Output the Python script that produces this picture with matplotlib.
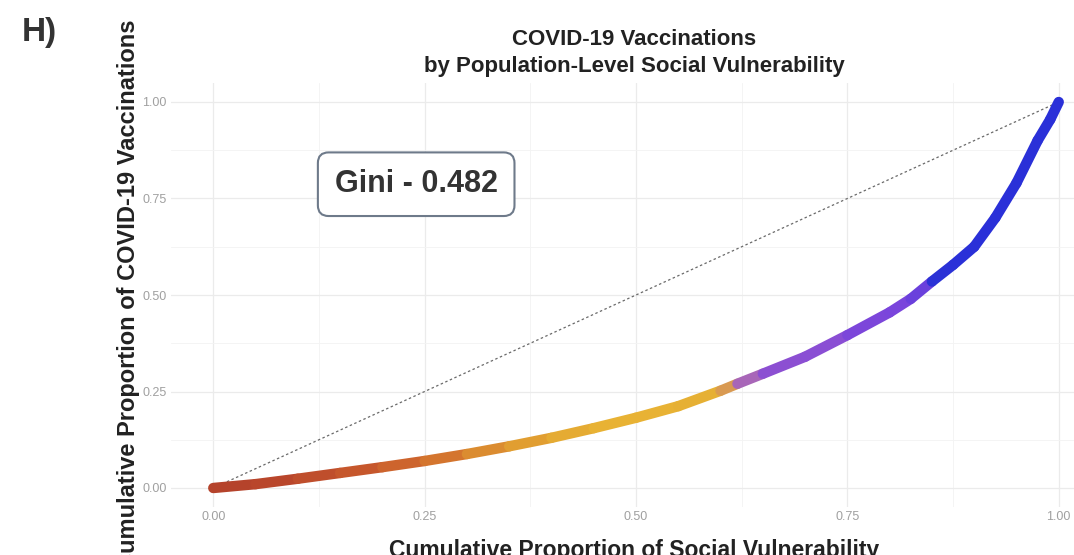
import matplotlib
matplotlib.use("Agg")
import matplotlib.pyplot as plt
from matplotlib.collections import LineCollection
import numpy as np

plt.rcParams['font.family'] = ['Liberation Sans', 'DejaVu Sans']

# ---- data ----
cum_svi = [0.00, 0.05, 0.10, 0.15, 0.20, 0.25, 0.30, 0.35, 0.40, 0.45, 0.50,
           0.55, 0.60, 0.62, 0.65, 0.70, 0.75, 0.80, 0.825, 0.85, 0.875, 0.90,
           0.925, 0.95, 0.975, 0.99, 1.00]
cum_vax = [0.000, 0.010, 0.024, 0.039, 0.054, 0.070, 0.088, 0.108, 0.130, 0.155, 0.182,
           0.212, 0.252, 0.270, 0.296, 0.340, 0.396, 0.455, 0.490, 0.535, 0.578, 0.625,
           0.700, 0.790, 0.900, 0.955, 1.000]
seg_colors = ['#b5432b', '#b9462b', '#bf4e2c', '#c6572c', '#cd642d', '#d4752e', '#db8c30',
              '#e19e31', '#e5ab33', '#e8b234', '#e8b234', '#e6b034', '#d99a52', '#a866b8',
              '#8c4fd2', '#8a4ed4', '#7c46da', '#7a45dc', '#6a40dc', '#2b32d6', '#2a30d8',
              '#2a30d8', '#2a30d8', '#2a30d8', '#2a30d8', '#2a30d8']
x_ticks = [0.00, 0.25, 0.50, 0.75, 1.00]
y_ticks = [0.00, 0.25, 0.50, 0.75, 1.00]
tick_labels = ['0.00', '0.25', '0.50', '0.75', '1.00']
gini_text = 'Gini - 0.482'

fig = plt.figure(figsize=(10.74, 5.55), dpi=100)
W, H = 1074, 555
left, right, top, bottom = 171, 1101, 82.7, 507.3
ax = fig.add_axes([left / W, (H - bottom) / H, (right - left) / W, (bottom - top) / H])

ax.set_xlim(-0.05, 1.05)
ax.set_ylim(-0.05, 1.05)
for s in ax.spines.values():
    s.set_visible(False)

ax.set_xticks(x_ticks)
ax.set_xticklabels(tick_labels)
ax.set_yticks(y_ticks)
ax.set_yticklabels(tick_labels)
ax.set_xticks([0.125, 0.375, 0.625, 0.875], minor=True)
ax.set_yticks([0.125, 0.375, 0.625, 0.875], minor=True)
ax.tick_params(which='both', length=0)
ax.tick_params(axis='both', labelsize=9, labelcolor='#a0a0a0', pad=3)
ax.grid(which='major', color='#ebebeb', linewidth=0.9)
ax.grid(which='minor', color='#f3f3f3', linewidth=0.6)
ax.set_axisbelow(True)

# diagonal equality line
ax.plot([0, 1], [0, 1], linestyle=(0, (2, 2)), color='#6a6a6a', linewidth=0.9, zorder=2)

# Lorenz curve
pts = np.column_stack([cum_svi, cum_vax])
segs = np.stack([pts[:-1], pts[1:]], axis=1)
lc = LineCollection(segs, colors=seg_colors, linewidths=7.5, capstyle='round',
                    joinstyle='round', zorder=3)
ax.add_collection(lc)

# Gini label
ax.text(0.24, 0.787, gini_text, fontsize=22, fontweight='bold', color='#333333',
        ha='center', va='center', zorder=4,
        bbox=dict(boxstyle='round,pad=0.55,rounding_size=0.35', facecolor='white',
                  edgecolor='#6e7a8a', linewidth=1.5))

# titles and labels
fig.text(634 / W, 1 - 45 / H, 'COVID-19 Vaccinations', ha='center', va='baseline',
         fontsize=16, fontweight='bold', color='#222222')
fig.text(634 / W, 1 - 72 / H, 'by Population-Level Social Vulnerability', ha='center',
         va='baseline', fontsize=16, fontweight='bold', color='#222222')
fig.text(634 / W, 1 - 557 / H, 'Cumulative Proportion of Social Vulnerability',
         ha='center', va='baseline', fontsize=16.5, fontweight='bold', color='#222222')
fig.text(135 / W, 1 - 295 / H, 'Cumulative Proportion of COVID-19 Vaccinations',
         ha='center', va='baseline', rotation=90, rotation_mode='anchor', fontsize=17,
         fontweight='bold', color='#222222')
fig.text(39 / W, 1 - 33 / H, 'H)', ha='center', va='center', fontsize=24,
         fontweight='bold', color='#333333')

fig.savefig('out.png', dpi=100)
